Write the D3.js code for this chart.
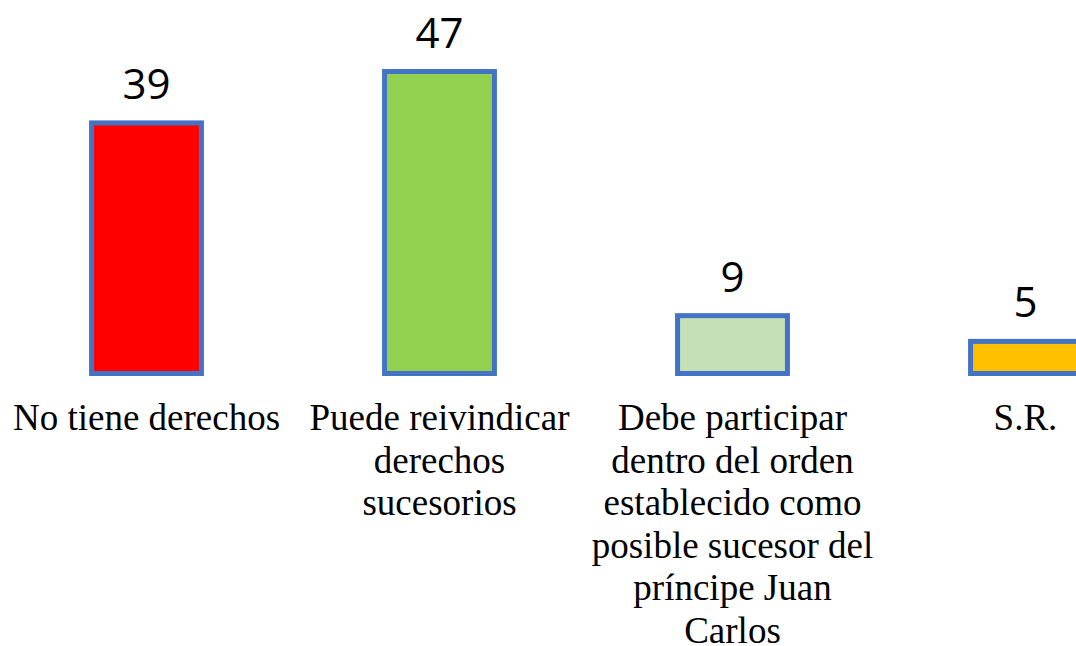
<!DOCTYPE html>
<html>
<head>
<meta charset="utf-8">
<script src="https://cdn.jsdelivr.net/npm/d3@7"></script>
<style>
	body { margin: 0; background: #fff; overflow: hidden; }
	svg { display: block; }
	.val { font-family: "Open Sans", "Liberation Sans", sans-serif; font-size: 42px; fill: #000; }
	.cat { font-family: "Liberation Serif", "Times New Roman", serif; font-size: 37px; fill: #000; }
</style>
</head>
<body>
<svg id="chart" width="1076" height="646"></svg>
<script>
const categories = ["No tiene derechos", "Puede reivindicar derechos sucesorios",
	"Debe participar dentro del orden establecido como posible sucesor del príncipe Juan Carlos", "S.R."]
const values = [39, 47, 9, 5]
const fills = ["#FF0000", "#92D050", "#C5E0B4", "#FFC000"]
//label lines as they wrap in the original
const tickLines = [
	["No tiene derechos"],
	["Puede reivindicar", "derechos", "sucesorios"],
	["Debe participar", "dentro del orden", "establecido como", "posible sucesor del", "príncipe Juan", "Carlos"],
	["S.R."]
]

const svg = d3.select("#chart")
const baseY = 373.5

const x = d3.scaleBand()
	.domain(categories)
	.range([0, 1172])
	.paddingInner(0.625)
	.paddingOuter(0.3125)

const y = d3.scaleLinear()
	.domain([0, 47])
	.range([baseY, baseY - 302])

const bars = svg.selectAll("g.bar")
	.data(categories.map((c, i) => ({cat: c, value: values[i], fill: fills[i], lines: tickLines[i]})))
	.join("g")
		.classed("bar", true)

bars.append("rect")
	.attr("x", d => x(d.cat))
	.attr("y", d => y(d.value))
	.attr("width", x.bandwidth())
	.attr("height", d => y(0) - y(d.value))
	.attr("fill", d => d.fill)
	.attr("stroke", "#4472C4")
	.attr("stroke-width", 5)

bars.append("text")
	.classed("val", true)
	.attr("x", d => x(d.cat) + x.bandwidth() / 2)
	.attr("y", d => y(d.value) - 24)
	.attr("text-anchor", "middle")
	.text(d => d.value)

bars.append("text")
	.classed("cat", true)
	.attr("text-anchor", "middle")
	.attr("y", 430)
	.selectAll("tspan")
	.data(d => d.lines.map(l => ({l, cx: x(d.cat) + x.bandwidth() / 2})))
	.join("tspan")
		.attr("x", t => t.cx)
		.attr("dy", (t, i) => i === 0 ? 0 : 42.6)
		.text(t => t.l)
</script>
</body>
</html>
